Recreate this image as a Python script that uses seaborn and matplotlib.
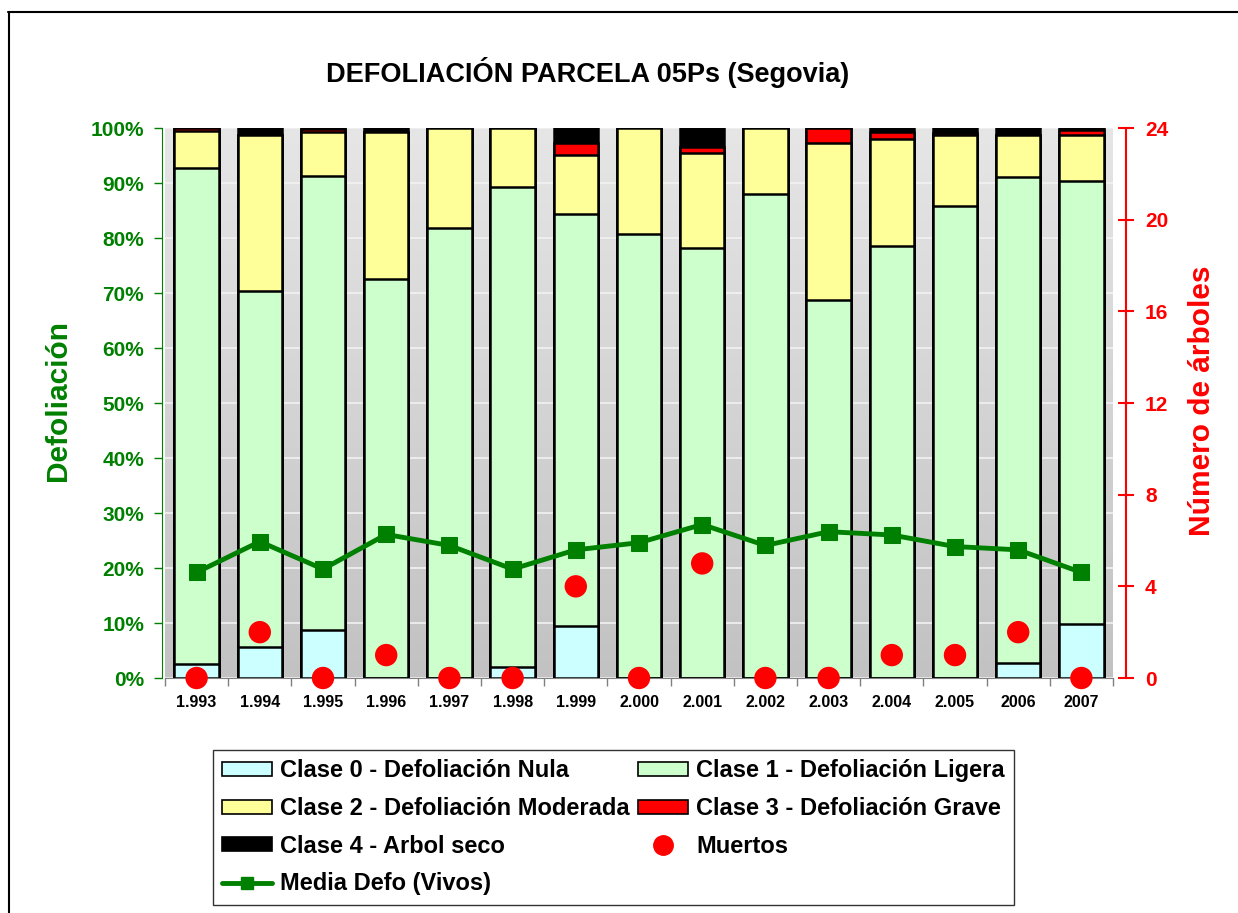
import numpy as np
import matplotlib
matplotlib.use("Agg")
import matplotlib.pyplot as plt
import seaborn as sns
from matplotlib.lines import Line2D
from matplotlib.patches import Patch
from matplotlib.colors import LinearSegmentedColormap

# datos
anios = ['1.993', '1.994', '1.995', '1.996', '1.997', '1.998', '1.999', '2.000',
         '2.001', '2.002', '2.003', '2.004', '2.005', '2006', '2007']
clase0 = [2.5, 5.6, 8.7, 0, 0, 2.0, 9.5, 0, 0, 0, 0, 0, 0, 2.7, 9.8]
clase1 = [90.2, 64.8, 82.6, 72.5, 81.8, 87.3, 74.8, 80.7, 78.1, 88.0, 68.7, 78.6, 85.9, 88.4, 80.6]
clase2 = [6.8, 28.3, 8.0, 26.8, 18.2, 10.7, 10.7, 19.3, 17.3, 12.0, 28.6, 19.4, 12.8, 7.6, 8.3]
clase3 = [0.5, 0, 0.5, 0, 0, 0, 2.3, 0, 1.2, 0, 2.7, 1.2, 0.3, 0, 1.0]
clase4 = [0, 1.3, 0.2, 0.7, 0, 0, 2.7, 0, 3.4, 0, 0, 0.8, 1.0, 1.3, 0.3]
media_defo = [19.2, 24.8, 19.8, 26.1, 24.1, 19.8, 23.3, 24.6, 27.9, 24.1, 26.6, 26.0, 23.9, 23.3, 19.2]
muertos = [0, 2, 0, 1, 0, 0, 4, 0, 5, 0, 0, 1, 1, 2, 0]

nombres = ['Clase 0 - Defoliación Nula', 'Clase 1 - Defoliación Ligera',
           'Clase 2 - Defoliación Moderada', 'Clase 3 - Defoliación Grave',
           'Clase 4 - Arbol seco']
colores = ['#CCFFFF', '#CCFFCC', '#FFFF99', '#FF0000', '#000000']
verde = '#008000'
rojo = '#FF0000'

sns.set_style('white')
plt.rcParams['font.family'] = ['Liberation Sans', 'DejaVu Sans']
plt.rcParams['text.color'] = 'black'
plt.rcParams['xtick.color'] = 'black'

fig = plt.figure(figsize=(12.38, 9.13), dpi=100)
ax = fig.add_axes([165 / 1238, 1 - 678 / 913, 948 / 1238, 550 / 913])

# fondo degradado gris
cmap = LinearSegmentedColormap.from_list('gris', ['#c2c2c2', '#e6e6e6'])
ax.imshow(np.linspace(0, 1, 256).reshape(-1, 1), cmap=cmap, origin='lower',
          extent=(-0.5, 14.5, 0, 100), aspect='auto', zorder=0)

# barras apiladas (acumuladas, de arriba a abajo)
capas = np.cumsum(np.array([clase0, clase1, clase2, clase3, clase4]), axis=0)
for i in range(4, -1, -1):
    sns.barplot(x=anios, y=capas[i], order=anios, color=colores[i], saturation=1,
                edgecolor='black', linewidth=1.8, width=0.7, errorbar=None,
                ax=ax, zorder=2)

sns.lineplot(x=np.arange(len(anios)), y=media_defo, ax=ax, color=verde, linewidth=3.5,
             marker='s', markersize=11, markeredgecolor=verde, zorder=5)

ax.set_xlim(-0.5, 14.5)
ax.set_ylim(0, 100)
ax.set_axisbelow(True)
ax.yaxis.grid(True, color='#f2f2f2', linewidth=1.2)
ax.tick_params(axis='y', colors=verde, length=6, width=1, pad=7, left=True)
ax.set_yticks(np.arange(0, 101, 10))
ax.set_yticklabels([f'{v}%' for v in range(0, 101, 10)])
ax.tick_params(axis='x', which='major', bottom=True, length=6, color='#808080', width=1)
ax.tick_params(axis='x', which='minor', bottom=True, length=0, pad=12)
ax.set_xticks(np.arange(-0.5, 15, 1))
ax.set_xticklabels([''] * 16)
ax.set_xticks(np.arange(len(anios)), minor=True)
ax.set_xticklabels(anios, minor=True)
ax.set_xlabel('')
ax.set_ylabel('Defoliación', color=verde, fontweight='bold', fontsize=21.5)
ax.yaxis.set_label_coords(-0.098, 0.505)
for s in ['top', 'right']:
    ax.spines[s].set_visible(False)
ax.spines['left'].set_color(verde)
ax.spines['left'].set_position(('outward', 2))
ax.spines['bottom'].set_color('#808080')

# eje secundario: numero de arboles muertos
ax2 = ax.twinx()
sns.scatterplot(x=np.arange(len(anios)), y=muertos, ax=ax2, color=rojo, s=260,
                edgecolor='none', clip_on=False, zorder=6)
ax2.set_ylim(0, 24)
ax2.tick_params(axis='y', colors=rojo, direction='inout', length=12, width=1.5, pad=8)
ax2.set_yticks(np.arange(0, 25, 4))
ax2.set_yticklabels([str(v) for v in range(0, 25, 4)])
ax2.set_ylabel('Número de árboles', color=rojo, fontweight='bold', fontsize=21.5)
ax2.yaxis.set_label_coords(1.079, 0.505)
for s in ['top', 'left', 'bottom']:
    ax2.spines[s].set_visible(False)
ax2.spines['right'].set_color(rojo)
ax2.spines['right'].set_linewidth(1.5)
ax2.spines['right'].set_position(('outward', 9))

# fuentes de las etiquetas de los ejes
plt.setp(ax.get_yticklabels(), fontweight='bold', fontsize=15, color=verde)
plt.setp(ax2.get_yticklabels(), fontweight='bold', fontsize=15, color=rojo)
plt.setp(ax.get_xticklabels(minor=True), fontweight='bold', fontsize=11.5, color='black')

fig.text(588 / 1238, 1 - 73 / 913, 'DEFOLIACIÓN PARCELA 05Ps (Segovia)',
         ha='center', va='center', fontsize=19.5, fontweight='bold', color='black')

# leyenda
parches = [Patch(facecolor=c, edgecolor='black', linewidth=1.2) for c in colores]
h_muertos = Line2D([], [], marker='o', color=rojo, linestyle='none', markersize=14)
h_media = Line2D([], [], color=verde, linewidth=3.5, marker='s', markersize=8)
handles = [parches[0], parches[2], parches[4], h_media, parches[1], parches[3], h_muertos]
labels = [nombres[0], nombres[2], nombres[4], 'Media Defo (Vivos)', nombres[1], nombres[3], 'Muertos']
leg = fig.legend(handles, labels, ncol=2, loc='upper left',
                 bbox_to_anchor=(213 / 1238, 1 - 750 / 913), frameon=True,
                 fancybox=False, edgecolor='black', prop={'weight': 'bold', 'size': 17},
                 handlelength=2.1, handleheight=0.55, labelspacing=0.62,
                 columnspacing=0.35, borderpad=0.4, handletextpad=0.35,
                 borderaxespad=0)
leg.get_frame().set_linewidth(1)
for t in leg.get_texts():
    t.set_color('black')

# marco exterior
fig.add_artist(Line2D([8.5 / 1238, 8.5 / 1238], [0, 1 - 12.5 / 913], color='black', linewidth=1.5))
fig.add_artist(Line2D([8 / 1238, 1], [1 - 12.5 / 913, 1 - 12.5 / 913], color='black', linewidth=1.5))

fig.savefig('out.png', dpi=100)
